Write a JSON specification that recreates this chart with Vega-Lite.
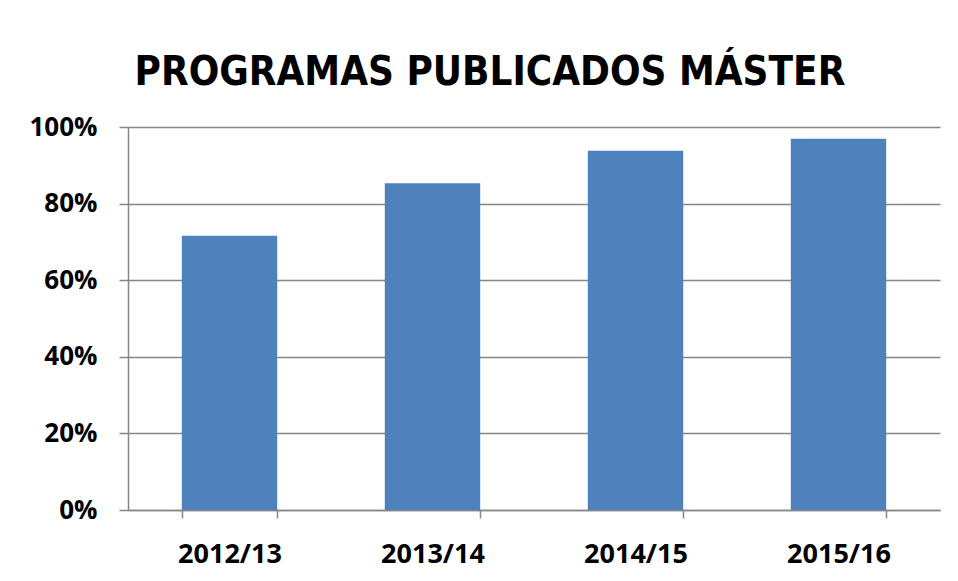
{
  "$schema": "https://vega.github.io/schema/vega-lite/v6.json",
  "autosize": "none",
  "width": 812,
  "height": 383,
  "padding": {"left": 128, "top": 127, "right": 18, "bottom": 71},
  "background": "white",
  "title": {
    "text": "PROGRAMAS PUBLICADOS MÁSTER",
    "font": "DejaVu Sans Condensed, sans-serif",
    "fontSize": 40,
    "fontWeight": "bold",
    "color": "black",
    "anchor": "middle",
    "frame": "group",
    "baseline": "alphabetic",
    "offset": 28,
    "dy": 39,
    "dx": -44
  },
  "data": {
    "values": [
      {"curso": "2012/13", "pct": 0.716},
      {"curso": "2013/14", "pct": 0.853},
      {"curso": "2014/15", "pct": 0.938},
      {"curso": "2015/16", "pct": 0.969}
    ]
  },
  "mark": {"type": "bar", "color": "#4F81BD"},
  "encoding": {
    "x": {
      "field": "curso",
      "type": "nominal",
      "sort": null,
      "scale": {"paddingInner": 0.53, "paddingOuter": 0.265},
      "axis": {
        "title": null,
        "labelAngle": 0,
        "labelFont": "Open Sans",
        "labelFontSize": 27,
        "labelFontWeight": "bold",
        "labelColor": "black",
        "labelPadding": 23,
        "tickBand": "extent",
        "tickSize": 8,
        "tickColor": "#868686",
        "tickWidth": 1.5,
        "domainColor": "#868686",
        "domainWidth": 1.5,
        "grid": false
      }
    },
    "y": {
      "field": "pct",
      "type": "quantitative",
      "scale": {"domain": [0, 1]},
      "axis": {
        "title": null,
        "format": ".0%",
        "values": [0, 0.2, 0.4, 0.6, 0.8, 1],
        "labelFont": "Open Sans",
        "labelFontSize": 26,
        "labelFontWeight": "bold",
        "labelColor": "black",
        "labelPadding": 22,
        "tickSize": 9,
        "tickColor": "#868686",
        "tickWidth": 1.5,
        "domainColor": "#868686",
        "domainWidth": 1.5,
        "gridColor": "#868686",
        "gridWidth": 1.5,
        "gridOpacity": 1
      }
    }
  },
  "config": {"view": {"stroke": null}}
}
